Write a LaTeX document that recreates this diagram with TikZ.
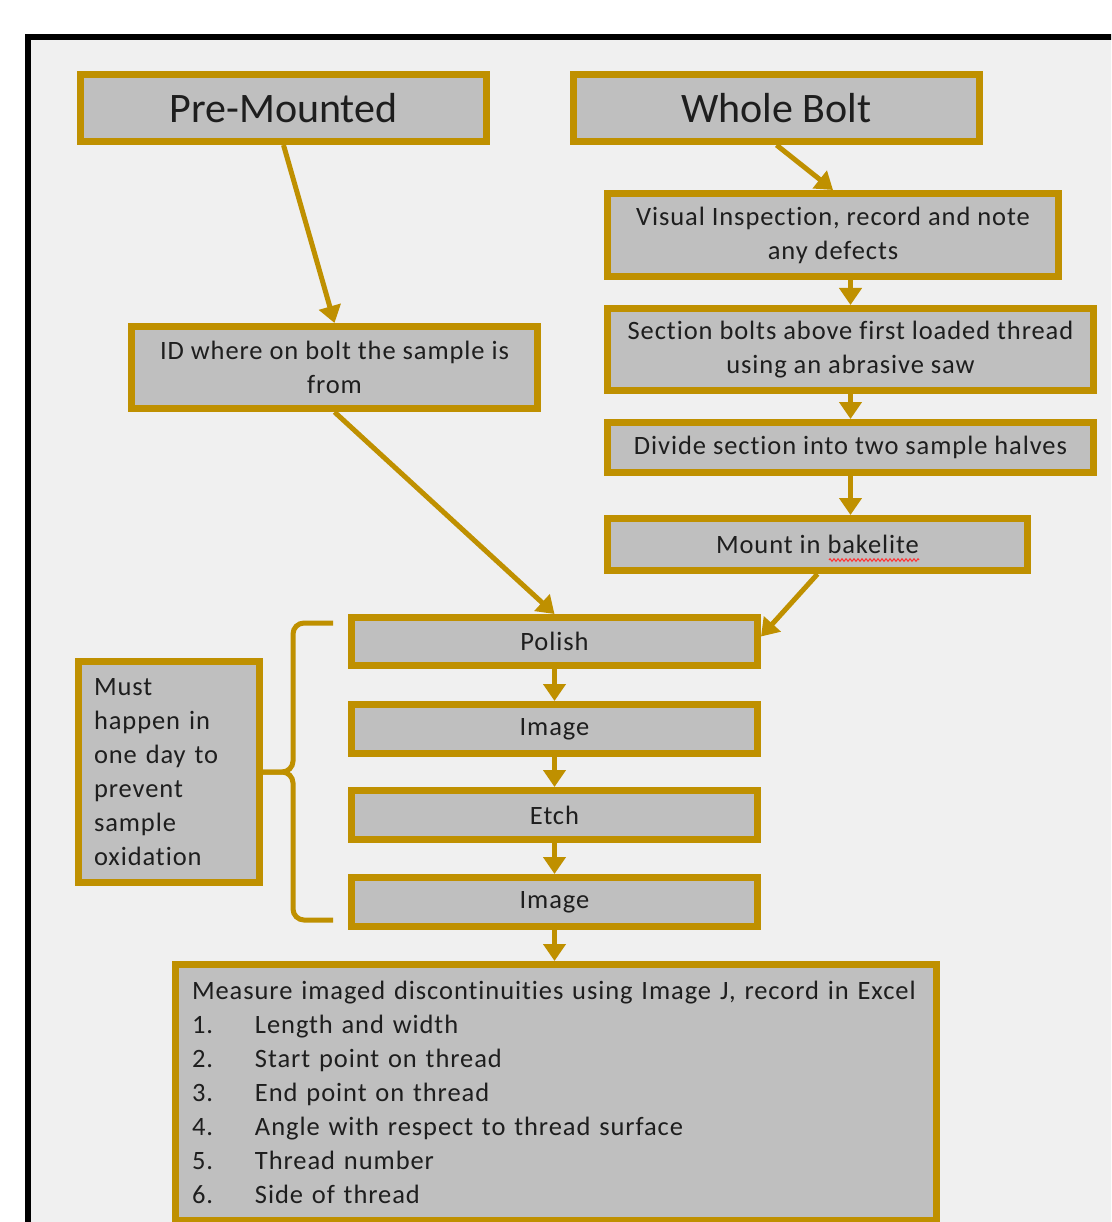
\documentclass[tikz,border=0pt]{standalone}
\usepackage{fontspec}
\setmainfont{Carlito}[Ligatures=NoCommon]
\newfontfamily\bodyfont{Carlito}[LetterSpace=3.5, Ligatures=NoCommon]
\usetikzlibrary{arrows.meta,decorations.pathmorphing}
\definecolor{gold}{HTML}{BF9000}
\definecolor{boxgray}{HTML}{BFBFBF}
\definecolor{bggray}{HTML}{F0F0F0}
\definecolor{txt}{HTML}{1E1E1E}
\tikzset{
  box/.style={draw=gold, fill=boxgray, line width=7pt, inner sep=0pt, text=txt,
    font=\bodyfont\fontsize{26.5}{34}\selectfont, align=center},
  titlebox/.style={box, font=\rmfamily\fontsize{42}{50}\selectfont},
  flow/.style={draw=gold, line width=5pt, -{Triangle[width=22pt,length=17pt]}},
  bracestyle/.style={draw=gold, line width=5pt, rounded corners=11pt},
}
\begin{document}
\begin{tikzpicture}[x=1pt,y=-1pt]
\useasboundingbox (0,0) rectangle (1111,1222);
\clip (0,0) rectangle (1111,1222);
\fill[white] (0,0) rectangle (1111,1222);
\draw[line width=6pt, fill=bggray] (28,37) rectangle (1300,1400);

\node[titlebox, minimum width=406pt, minimum height=67pt] (pre) at (283.5,108) {Pre-Mounted};
\node[titlebox, minimum width=406pt, minimum height=67pt] (whole) at (776.5,108) {Whole Bolt};
\node[box, minimum width=451pt, minimum height=83pt] (vis) at (833,235) {\raisebox{-4pt}{}Visual Inspection, record and note\\any defects};
\node[box, minimum width=486pt, minimum height=82pt] (sec) at (850.5,349.5) {Section bolts above first loaded thread\\using an abrasive saw};
\node[box, minimum width=486pt, minimum height=50pt] (div) at (850.5,447.5) {Divide section into two sample halves};
\node[box, minimum width=420pt, minimum height=52pt] (mount) at (817.5,544.5) {Mount in bakelite};
\node[box, minimum width=406pt, minimum height=82pt] (id) at (334.5,367.5) {ID where on bolt the sample is\\from};
\node[box, minimum width=406pt, minimum height=48pt] (polish) at (554.5,641.5) {Polish};
\node[box, minimum width=406pt, minimum height=49pt] (img1) at (554.5,729) {Image};
\node[box, minimum width=406pt, minimum height=49pt] (etch) at (554.5,815) {Etch};
\node[box, minimum width=406pt, minimum height=49pt] (img2) at (554.5,902) {Image};
\node[box, minimum width=181pt, minimum height=221pt, text width=150pt, inner xsep=15.5pt, align=left] (must) at (169,772)
  {Must\\happen in\\one day to\\prevent\\sample\\oxidation};
\node[box, minimum width=761pt, minimum height=256pt, text width=728pt, inner xsep=16.5pt, align=left] (meas) at (556,1092.5)
  {Measure imaged discontinuities using Image J, record in Excel\\
   \makebox[63pt][l]{1.}Length and width\\
   \makebox[63pt][l]{2.}Start point on thread\\
   \makebox[63pt][l]{3.}End point on thread\\
   \makebox[63pt][l]{4.}Angle with respect to thread surface\\
   \makebox[63pt][l]{5.}Thread number\\
   \makebox[63pt][l]{6.}Side of thread};

% spelling squiggle under "bakelite"
\draw[red!80, line width=1pt, decorate, decoration={zigzag, amplitude=1.3pt, segment length=4pt}] (829,560) -- (919,560);

\draw[flow] (pre.south) -- (id.north);
\draw[flow] (whole.south) -- (vis.north);
\draw[flow] (sec.north |- vis.south) -- (sec.north);
\draw[flow] (sec.south) -- (div.north);
\draw[flow] (div.south) -- (div.south |- mount.north);
\draw[flow] (id.south) -- (polish.north);
\draw[flow] (mount.south) -- ([yshift=5pt]polish.east);
\draw[flow] (polish.south) -- (img1.north);
\draw[flow] (img1.south) -- (etch.north);
\draw[flow] (etch.south) -- (img2.north);
\draw[flow] (img2.south) -- (img2.south |- meas.north);

\draw[bracestyle] (333,623) -- (293,623) -- (293,772) -- (must.east);
\draw[bracestyle] (must.east) -- (293,772) -- (293,920) -- (333,920);
\end{tikzpicture}
\end{document}
